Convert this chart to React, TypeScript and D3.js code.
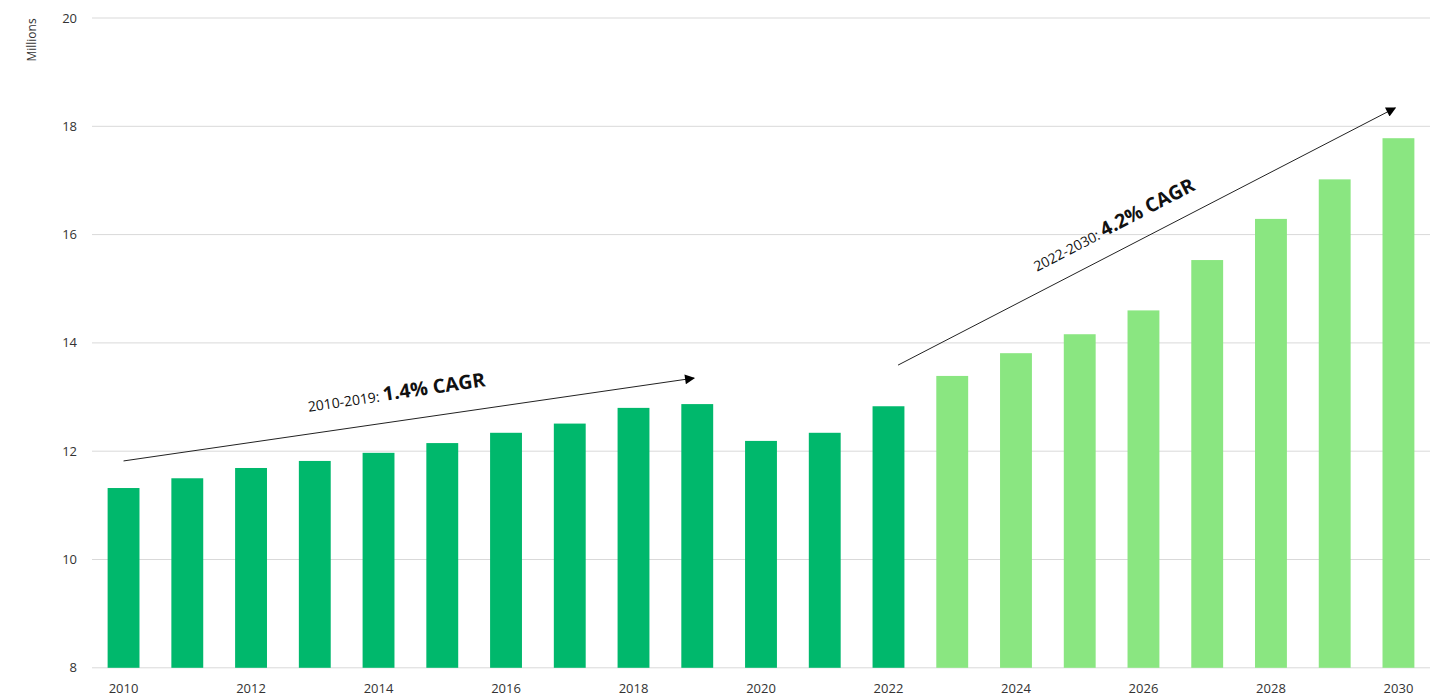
import React, { useRef, useEffect } from 'react';
import * as d3 from 'd3';

// Population (millions), 2010-2022 actual, 2023-2030 projected
const years = [
  2010, 2011, 2012, 2013, 2014, 2015, 2016, 2017, 2018, 2019, 2020,
  2021, 2022, 2023, 2024, 2025, 2026, 2027, 2028, 2029, 2030,
];
const values = [
  11.32, 11.5, 11.69, 11.82, 11.97, 12.15, 12.34, 12.51, 12.8, 12.87, 12.19,
  12.34, 12.83, 13.39, 13.81, 14.16, 14.6, 15.53, 16.29, 17.02, 17.78,
];
const lastActualYear = 2022;
const yTicks = [8, 10, 12, 14, 16, 18, 20];
const xTickYears = [2010, 2012, 2014, 2016, 2018, 2020, 2022, 2024, 2026, 2028, 2030];

// CAGR arrows, in (year, value) coordinates
const arrows = [
  { x0: 2010, y0: 11.82, x1: 2018.95, y1: 13.35, range: '2010-2019', cagr: '1.4% CAGR', t: 0.33, off: -22 },
  { x0: 2022.15, y0: 13.59, x1: 2029.95, y1: 18.34, range: '2022-2030', cagr: '4.2% CAGR', t: 0.297, off: -19 },
];

const DARK = '#00b86c';
const LIGHT = '#8ae681';

const PopulationChart = ({ width = 1450, height = 697 }) => {
  const svgRef = useRef();

  useEffect(() => {
    d3.select(svgRef.current).selectAll('*').remove();

    const svg = d3.select(svgRef.current)
      .attr('width', width)
      .attr('height', height)
      .style('font-family', '"Open Sans", sans-serif');

    const left = 92, right = 1430, top = 18, bottom = 667.8;

    const x = d3.scaleBand()
      .domain(years.map(String))
      .range([left, right])
      .paddingInner(0.5)
      .paddingOuter(0.245);

    const y = d3.scaleLinear().domain([8, 20]).range([bottom, top]);

    // x position for fractional years (arrow ends)
    const xc = (yr) => x(String(years[0])) + x.bandwidth() / 2 + (yr - years[0]) * x.step();

    // gridlines
    svg.append('g')
      .selectAll('line')
      .data(yTicks)
      .enter()
      .append('line')
      .attr('x1', left)
      .attr('x2', right)
      .attr('y1', d => y(d))
      .attr('y2', d => y(d))
      .attr('stroke', '#d9d9d9')
      .attr('stroke-width', 1);

    // y labels
    svg.append('g')
      .selectAll('text')
      .data(yTicks)
      .enter()
      .append('text')
      .attr('x', 77)
      .attr('y', d => y(d))
      .attr('dy', '0.35em')
      .attr('text-anchor', 'end')
      .attr('font-size', 13)
      .attr('fill', '#333')
      .text(d => d);

    svg.append('text')
      .attr('transform', 'translate(36,40) rotate(-90)')
      .attr('text-anchor', 'middle')
      .attr('font-size', 12)
      .attr('fill', '#333')
      .text('Millions');

    // bars
    svg.append('g')
      .selectAll('rect')
      .data(years)
      .enter()
      .append('rect')
      .attr('x', d => x(String(d)))
      .attr('width', x.bandwidth())
      .attr('y', (d, i) => y(values[i]))
      .attr('height', (d, i) => y(8) - y(values[i]))
      .attr('fill', d => (d <= lastActualYear ? DARK : LIGHT));

    // x labels
    svg.append('g')
      .selectAll('text')
      .data(xTickYears)
      .enter()
      .append('text')
      .attr('x', d => x(String(d)) + x.bandwidth() / 2)
      .attr('y', 693)
      .attr('text-anchor', 'middle')
      .attr('font-size', 13)
      .attr('fill', '#333')
      .text(d => d);

    // arrowhead
    svg.append('defs')
      .append('marker')
      .attr('id', 'arrowhead')
      .attr('viewBox', '0 0 10 10')
      .attr('refX', 9)
      .attr('refY', 5)
      .attr('markerWidth', 13)
      .attr('markerHeight', 10)
      .attr('markerUnits', 'userSpaceOnUse')
      .attr('orient', 'auto')
      .append('path')
      .attr('d', 'M0,0L10,5L0,10Z')
      .attr('fill', '#000');

    arrows.forEach(a => {
      const px0 = xc(a.x0), py0 = y(a.y0), px1 = xc(a.x1), py1 = y(a.y1);
      svg.append('line')
        .attr('x1', px0)
        .attr('y1', py0)
        .attr('x2', px1)
        .attr('y2', py1)
        .attr('stroke', '#222')
        .attr('stroke-width', 1)
        .attr('marker-end', 'url(#arrowhead)');

      // label runs along the arrow, a little above it
      const angle = Math.atan2(py1 - py0, px1 - px0) * 180 / Math.PI;
      const lx = px0 + (px1 - px0) * a.t;
      const ly = py0 + (py1 - py0) * a.t;
      const label = svg.append('text')
        .attr('transform', `translate(${lx},${ly}) rotate(${angle}) translate(0,${a.off})`)
        .attr('fill', '#111');
      label.append('tspan')
        .attr('font-size', 14)
        .text(`${a.range}: `);
      label.append('tspan')
        .attr('font-size', 19.5)
        .attr('font-weight', 'bold')
        .text(a.cagr);
    });
  }, [width, height]);

  return (
    <svg ref={svgRef} style={{ position: 'absolute', left: 0, top: 0 }}></svg>
  );
};

export default function App() {
  return <PopulationChart />;
}
